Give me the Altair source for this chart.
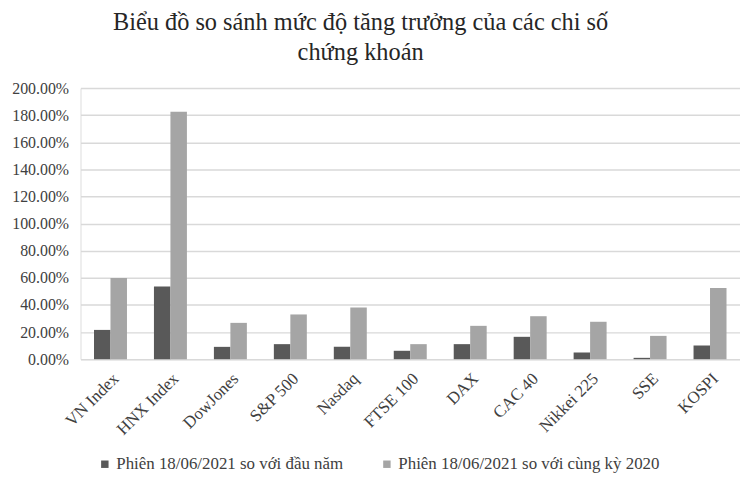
import altair as alt
import pandas as pd

categories = ["VN Index", "HNX Index", "DowJones", "S&P 500", "Nasdaq", "FTSE 100",
              "DAX", "CAC 40", "Nikkei 225", "SSE", "KOSPI"]
series_names = ["Phiên 18/06/2021 so với đầu năm", "Phiên 18/06/2021 so với cùng kỳ 2020"]
ytd = [0.216, 0.536, 0.091, 0.111, 0.091, 0.062, 0.111, 0.165, 0.049, 0.010, 0.101]
yoy = [0.598, 1.825, 0.268, 0.330, 0.381, 0.111, 0.246, 0.317, 0.276, 0.172, 0.526]
colors = ["#595959", "#a5a5a5"]

rows = []
for c, a, b in zip(categories, ytd, yoy):
    rows.append({"cat": c, "series": series_names[0], "value": a})
    rows.append({"cat": c, "series": series_names[1], "value": b})
df = pd.DataFrame(rows)

FONT = "'Liberation Serif', 'Times New Roman', 'DejaVu Serif', serif"

chart = alt.Chart(df).mark_bar().encode(
    x=alt.X("cat:N", sort=categories, title=None,
            scale=alt.Scale(paddingInner=0.45, paddingOuter=0.225),
            axis=alt.Axis(labelAngle=-45, ticks=False, domain=False, labelPadding=11,
                          labelFontSize=17)),
    xOffset=alt.XOffset("series:N", sort=series_names),
    y=alt.Y("value:Q", title=None,
            scale=alt.Scale(domain=[0, 2]),
            axis=alt.Axis(format=".2%", values=[0, 0.2, 0.4, 0.6, 0.8, 1.0, 1.2, 1.4, 1.6, 1.8, 2.0],
                          ticks=False, tickSize=0, domain=False, labelPadding=12,
                          labelFontSize=16, gridColor="#d9d9d9", gridWidth=1.5)),
    color=alt.Color("series:N", sort=series_names,
                    scale=alt.Scale(domain=series_names, range=colors),
                    legend=alt.Legend(title=None, orient="none", direction="horizontal",
                                      legendX=16, legendY=370, symbolType="square",
                                      symbolSize=56, symbolStrokeWidth=0,
                                      labelLimit=0,
                                      columnPadding=35, symbolOffset=0, labelOffset=3, padding=0)),
).properties(
    width=664,
    height=273,
    padding={"left": 3, "top": 0, "right": 0, "bottom": 0},
    title=alt.TitleParams(
        text=["Biểu đồ so sánh mức độ tăng trưởng của các chi số", "chứng khoán"],
        font=FONT, fontSize=24.5, fontWeight="normal", color="#262626",
        lineHeight=30, anchor="middle", dx=-50, offset=15,
    ),
).configure_view(stroke=None).configure(background="white").configure_axis(
    labelFont=FONT, labelColor="#404040"
).configure_legend(
    labelFont=FONT, labelFontSize=17, labelColor="#404040"
)

chart.save("out.html", embed_options={"renderer": "svg", "actions": False})
